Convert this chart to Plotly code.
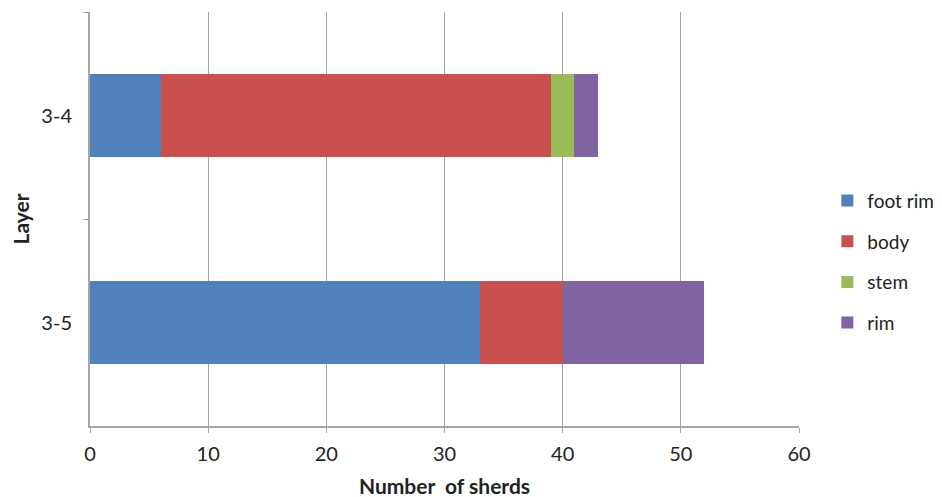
import plotly.graph_objects as go

layers = ["3-4", "3-5"]
foot_rim = [6, 33]
body = [33, 7]
stem = [2, 0]
rim = [2, 12]

series = [
    ("foot rim", foot_rim, "#4F81BD"),
    ("body", body, "#C9504D"),
    ("stem", stem, "#9BBB59"),
    ("rim", rim, "#8064A2"),
]

FONT = "Lato, Open Sans, sans-serif"

fig = go.Figure()
for name, vals, color in series:
    fig.add_trace(go.Bar(
        y=layers, x=vals, name=name, orientation="h",
        marker=dict(color=color, line=dict(width=0)),
        legendgroup=name,
    ))

fig.update_layout(
    width=942, height=497,
    barmode="stack", bargap=0.6,
    plot_bgcolor="white", paper_bgcolor="white",
    margin=dict(l=82, r=151, t=4, b=79),
    font=dict(family=FONT, size=20, color="#222222"),
    legend=dict(
        x=1.040, y=0.397, xanchor="left", yanchor="middle",
        traceorder="grouped", tracegroupgap=13,
        font=dict(size=19, color="#222222"),
        itemwidth=30,
    ),
    xaxis=dict(
        range=[0, 60], dtick=10, showgrid=True, gridcolor="#a6a6a6", gridwidth=1,
        showline=True, linecolor="#a6a6a6", linewidth=2,
        ticks="outside", ticklen=5, tickcolor="#a6a6a6",
        tickfont=dict(size=20, color="#222222"), ticklabelstandoff=4,
        title=dict(text="<b>Number  of sherds</b>", font=dict(size=21)),
        zeroline=False, automargin=False,
    ),
    yaxis=dict(
        type="category", categoryorder="array", categoryarray=layers,
        autorange="reversed",
        showline=True, linecolor="#a6a6a6", linewidth=2,
        ticks="outside", ticklen=5, tickcolor="#a6a6a6", tickson="boundaries",
        tickfont=dict(size=20, color="#222222"), ticklabelstandoff=12,
        title=dict(text="<b>Layer</b>", font=dict(size=21)),
        showgrid=False, automargin=False,
    ),
)

fig.write_html("out.html")
